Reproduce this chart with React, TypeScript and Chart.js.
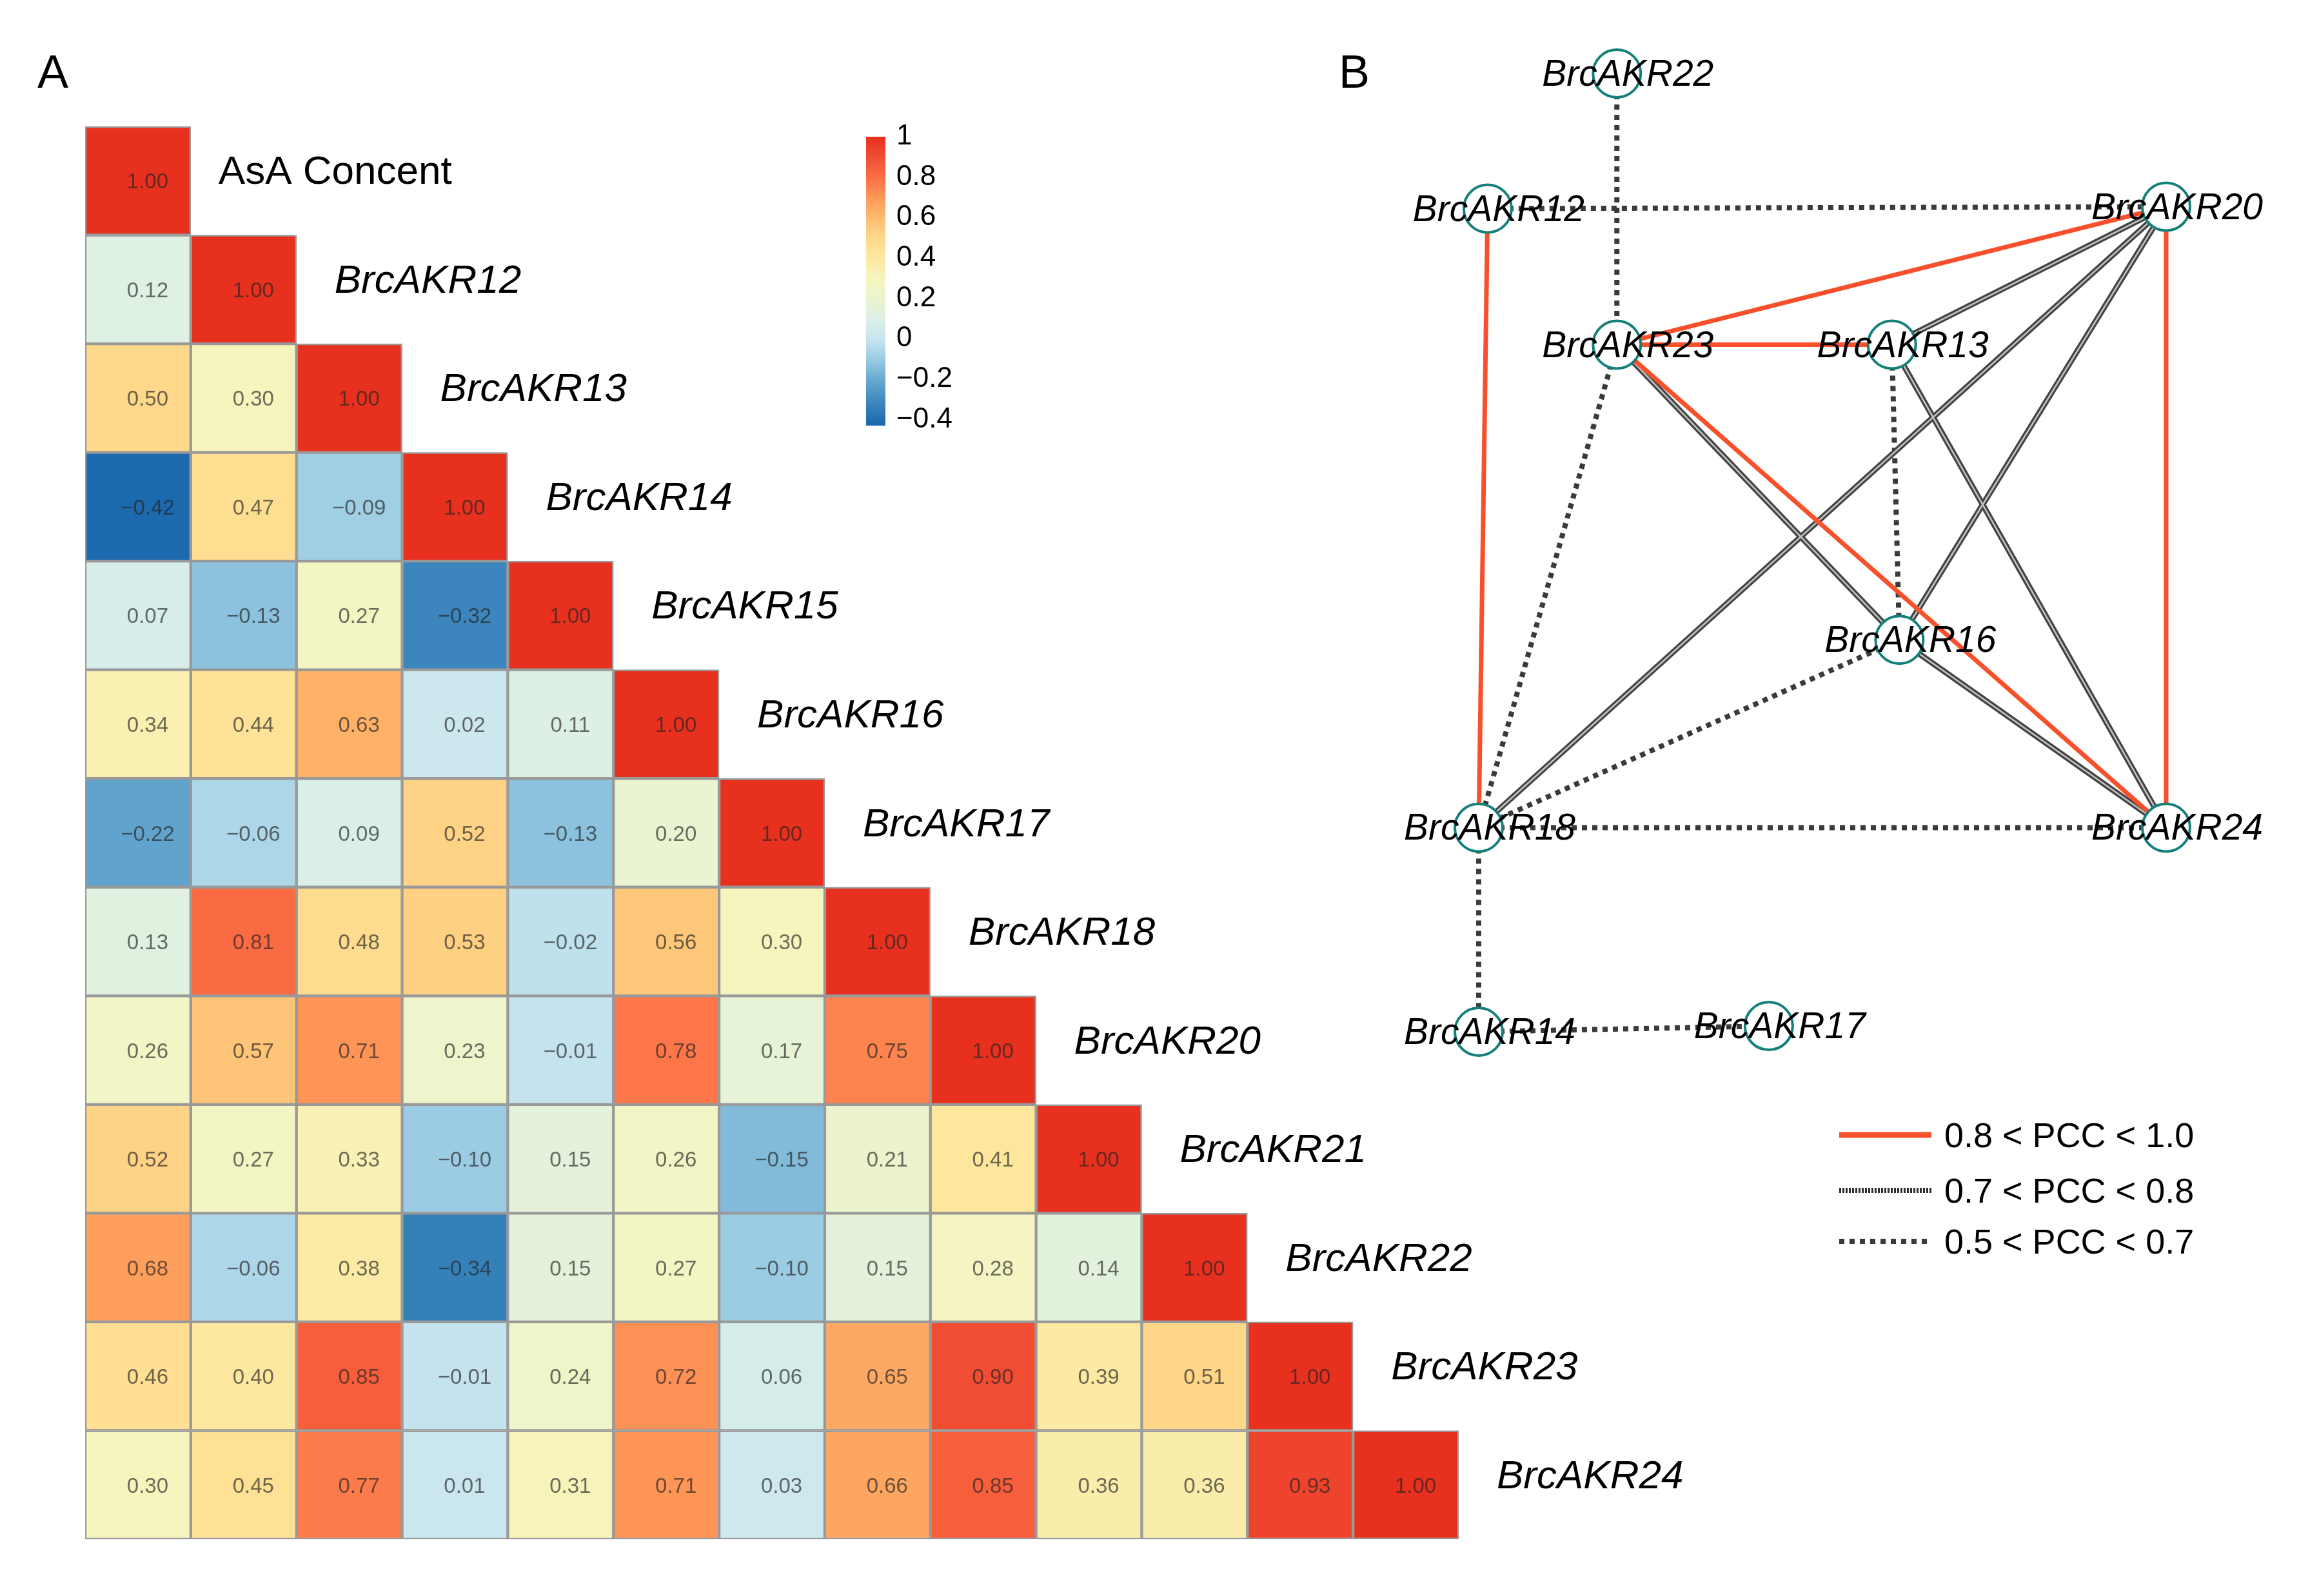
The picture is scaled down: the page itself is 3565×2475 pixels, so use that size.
import React, { useEffect, useRef } from 'react';
import { Chart, registerables } from 'chart.js';

Chart.register(...registerables);

const FONT = '"Liberation Sans", Arial, Helvetica, sans-serif';

// ---------------- DATA ----------------
const variables = [
  'AsA Concent', 'BrcAKR12', 'BrcAKR13', 'BrcAKR14', 'BrcAKR15', 'BrcAKR16', 'BrcAKR17',
  'BrcAKR18', 'BrcAKR20', 'BrcAKR21', 'BrcAKR22', 'BrcAKR23', 'BrcAKR24',
];

const rowAsA = [1.0];
const row12 = [0.12, 1.0];
const row13 = [0.5, 0.3, 1.0];
const row14 = [-0.42, 0.47, -0.09, 1.0];
const row15 = [0.07, -0.13, 0.27, -0.32, 1.0];
const row16 = [0.34, 0.44, 0.63, 0.02, 0.11, 1.0];
const row17 = [-0.22, -0.06, 0.09, 0.52, -0.13, 0.2, 1.0];
const row18 = [0.13, 0.81, 0.48, 0.53, -0.02, 0.56, 0.3, 1.0];
const row20 = [0.26, 0.57, 0.71, 0.23, -0.01, 0.78, 0.17, 0.75, 1.0];
const row21 = [0.52, 0.27, 0.33, -0.1, 0.15, 0.26, -0.15, 0.21, 0.41, 1.0];
const row22 = [0.68, -0.06, 0.38, -0.34, 0.15, 0.27, -0.1, 0.15, 0.28, 0.14, 1.0];
const row23 = [0.46, 0.4, 0.85, -0.01, 0.24, 0.72, 0.06, 0.65, 0.9, 0.39, 0.51, 1.0];
const row24 = [0.3, 0.45, 0.77, 0.01, 0.31, 0.71, 0.03, 0.66, 0.85, 0.36, 0.36, 0.93, 1.0];

const corrRows = [rowAsA, row12, row13, row14, row15, row16, row17, row18, row20, row21, row22, row23, row24];

const colorbarTicks = [1, 0.8, 0.6, 0.4, 0.2, 0, -0.2, -0.4];
const colorbarMin = -0.43;
const colorbarMax = 1.0;

// colour scale anchors (value -> colour)
const paletteValues = [-0.43, -0.3, -0.2, -0.1, 0.0, 0.1, 0.2, 0.3, 0.4, 0.5, 0.6, 0.7, 0.8, 0.9, 1.0];
const paletteColors = [
  '#1a66ac', '#428cc0', '#68aad1', '#9bcce3', '#c8e6f0', '#dcf0e6', '#ebf4d0', '#f6f5be',
  '#fde89f', '#fed98b', '#febb6e', '#fe9858', '#fb6e45', '#f14d33', '#e8301f',
];

// network layout (layout units 0..100)
const networkNodes = ['BrcAKR22', 'BrcAKR12', 'BrcAKR20', 'BrcAKR23', 'BrcAKR13', 'BrcAKR16', 'BrcAKR18', 'BrcAKR24', 'BrcAKR14', 'BrcAKR17'];
const nodeLayoutX = [20.1, 1.3, 100, 20.1, 60.1, 61.2, 0, 100, 0, 42.2];
const nodeLayoutY = [0, 14.1, 13.9, 28.3, 28.3, 59.1, 78.7, 78.7, 100, 99.4];

const pccLabels = ['0.8 < PCC < 1.0', '0.7 < PCC < 0.8', '0.5 < PCC < 0.7'];
const pccLower = [0.8, 0.7, 0.5];

// ---------------- HELPERS ----------------
function hexToRgb(h: string) {
  const n = parseInt(h.slice(1), 16);
  return [(n >> 16) & 255, (n >> 8) & 255, n & 255];
}

function corrColor(v: number) {
  if (v <= paletteValues[0]) return paletteColors[0];
  for (let k = 1; k < paletteValues.length; k++) {
    if (v <= paletteValues[k]) {
      const t = (v - paletteValues[k - 1]) / (paletteValues[k] - paletteValues[k - 1]);
      const a = hexToRgb(paletteColors[k - 1]);
      const b = hexToRgb(paletteColors[k]);
      const c = a.map((x, i) => Math.round(x + (b[i] - x) * t));
      return `rgb(${c[0]},${c[1]},${c[2]})`;
    }
  }
  return paletteColors[paletteColors.length - 1];
}

function fmtNum(v: number) {
  const s = Math.abs(v).toFixed(2);
  return v < 0 ? '\u2212' + s : s;
}

function fmtTick(v: number) {
  if (v === 1) return '1';
  if (v === 0) return '0';
  const s = Math.abs(v).toFixed(1);
  return v < 0 ? '\u2212' + s : s;
}

function corrOf(a: string, b: string) {
  const i = variables.indexOf(a);
  const j = variables.indexOf(b);
  return i > j ? corrRows[i][j] : corrRows[j][i];
}

// ---------------- HEATMAP ----------------
const HEAT_W = 2700;
const HEAT_H = 2475;

const heatTextPlugin = {
  id: 'heatText',
  afterDatasetsDraw(chart: any) {
    const ctx = chart.ctx;
    ctx.save();
    chart.data.datasets.forEach((_ds: any, i: number) => {
      const meta = chart.getDatasetMeta(i);
      meta.data.forEach((el: any, j: number) => {
        if (j > i) return;
        const p = el.getProps(['x', 'y', 'base', 'width'], true);
        const cy = (p.y + p.base) / 2;
        ctx.font = `33px ${FONT}`;
        ctx.fillStyle = 'rgba(35,35,35,0.66)';
        ctx.textAlign = 'center';
        ctx.textBaseline = 'alphabetic';
        ctx.fillText(fmtNum(corrRows[i][j]), p.x + 15, cy + 12);
        if (j === i) {
          ctx.font = `${i === 0 ? '' : 'italic '}62px ${FONT}`;
          ctx.fillStyle = '#000';
          ctx.textAlign = 'left';
          ctx.fillText(variables[i], p.x + p.width / 2 + (i === 0 ? 43 : 59), cy + 5);
        }
      });
    });
    ctx.font = `72px ${FONT}`;
    ctx.fillStyle = '#000';
    ctx.textAlign = 'left';
    ctx.textBaseline = 'alphabetic';
    ctx.fillText('A', 58, 136);
    ctx.restore();
  },
};

function Heatmap() {
  const ref = useRef<HTMLCanvasElement>(null);
  useEffect(() => {
    const datasets = corrRows.map((row, i) => ({
      label: variables[i],
      data: variables.map((_, j) => (j <= i ? [i, i + 1] : null)),
      backgroundColor: variables.map((_, j) => (j <= i ? corrColor(row[j]) : 'rgba(0,0,0,0)')),
      borderColor: '#999999',
      borderWidth: 2.5,
      borderSkipped: false,
      grouped: false,
      barPercentage: 1,
      categoryPercentage: 1,
    }));
    const chart = new Chart(ref.current as HTMLCanvasElement, {
      type: 'bar',
      data: { labels: variables, datasets: datasets as any },
      options: {
        animation: false,
        responsive: false,
        devicePixelRatio: 1,
        events: [],
        indexAxis: 'x',
        layout: { padding: { left: 132, top: 196, right: HEAT_W - 2262, bottom: HEAT_H - 2387 } },
        plugins: { legend: { display: false }, tooltip: { enabled: false } },
        scales: {
          x: { type: 'category', display: false, offset: true },
          y: { type: 'linear', display: false, min: 0, max: variables.length, reverse: true },
        },
      } as any,
      plugins: [heatTextPlugin],
    });
    return () => chart.destroy();
  }, []);
  return (
    <canvas
      ref={ref}
      width={HEAT_W}
      height={HEAT_H}
      style={{ position: 'absolute', left: 0, top: 0, width: HEAT_W, height: HEAT_H }}
    />
  );
}

// ---------------- COLOUR BAR ----------------
const CB_LEFT = 1300;
const CB_TOP = 150;
const CB_W = 43 + 30 + 150;
const CB_H = 560;

function ColorBar() {
  const ref = useRef<HTMLCanvasElement>(null);
  useEffect(() => {
    const chart = new Chart(ref.current as HTMLCanvasElement, {
      type: 'bar',
      data: {
        labels: [''],
        datasets: [
          {
            data: [[colorbarMin, colorbarMax]] as any,
            backgroundColor: (c: any) => {
              const area = c.chart.chartArea;
              if (!area) return 'rgba(0,0,0,0)';
              const g = c.chart.ctx.createLinearGradient(0, area.bottom, 0, area.top);
              paletteValues.forEach((v, k) => {
                const t = (v - colorbarMin) / (colorbarMax - colorbarMin);
                if (t >= 0 && t <= 1) g.addColorStop(t, paletteColors[k]);
              });
              return g;
            },
            borderWidth: 0,
            barPercentage: 1,
            categoryPercentage: 1,
          },
        ],
      },
      options: {
        animation: false,
        responsive: false,
        devicePixelRatio: 1,
        events: [],
        layout: { padding: { left: 43, right: 0, top: 62, bottom: 50 } },
        plugins: { legend: { display: false }, tooltip: { enabled: false } },
        scales: {
          x: { display: false },
          y: {
            position: 'right',
            min: colorbarMin,
            max: colorbarMax,
            grid: { display: false, drawTicks: false },
            border: { display: false },
            ticks: {
              padding: 17,
              color: '#000',
              font: { size: 44, family: FONT },
              callback: (v: any) => fmtTick(Number(v)),
            },
            afterBuildTicks: (s: any) => {
              s.ticks = colorbarTicks.map((v) => ({ value: v }));
            },
            afterFit: (s: any) => {
              s.width = 150;
            },
          },
        },
      } as any,
    });
    return () => chart.destroy();
  }, []);
  return (
    <canvas
      ref={ref}
      width={CB_W}
      height={CB_H}
      style={{ position: 'absolute', left: CB_LEFT, top: CB_TOP, width: CB_W, height: CB_H }}
    />
  );
}

// ---------------- NETWORK ----------------
const NET_LEFT = 2050;
const NET_W = 1515;
const NET_H = 2475;

const RED = '#f7502b';
const DARK = '#444444';
const DOT = '#3a3a3a';

const netPlugin = {
  id: 'netText',
  afterDatasetsDraw(chart: any) {
    const ctx = chart.ctx;
    ctx.save();
    const meta = chart.getDatasetMeta(0);
    ctx.font = `italic 57px ${FONT}`;
    ctx.fillStyle = '#000';
    ctx.textAlign = 'center';
    ctx.textBaseline = 'alphabetic';
    meta.data.forEach((el: any, k: number) => {
      ctx.fillText(networkNodes[k], el.x + 17, el.y + 19);
    });
    // panel letter
    ctx.font = `72px ${FONT}`;
    ctx.textAlign = 'left';
    ctx.fillText('B', 26, 136);
    // legend
    const rows = [1760, 1846, 1925];
    const x0 = 802;
    const x1 = 945;
    rows.forEach((y, k) => {
      ctx.setLineDash([]);
      ctx.lineCap = 'butt';
      if (k === 0) {
        ctx.strokeStyle = RED;
        ctx.lineWidth = 9;
        ctx.beginPath(); ctx.moveTo(x0, y); ctx.lineTo(x1, y); ctx.stroke();
      } else if (k === 1) {
        ctx.strokeStyle = '#2e2e2e';
        ctx.lineWidth = 8;
        ctx.setLineDash([3, 2]);
        ctx.beginPath(); ctx.moveTo(x0, y); ctx.lineTo(x1, y); ctx.stroke();
      } else {
        ctx.strokeStyle = DOT;
        ctx.lineWidth = 8;
        ctx.setLineDash([8, 8]);
        ctx.beginPath(); ctx.moveTo(x0, y); ctx.lineTo(x1, y); ctx.stroke();
      }
      ctx.setLineDash([]);
      ctx.font = `54px ${FONT}`;
      ctx.fillStyle = '#000';
      ctx.textAlign = 'left';
      ctx.fillText(pccLabels[k], 965, y + 19);
    });
    ctx.restore();
  },
};

function Network() {
  const ref = useRef<HTMLCanvasElement>(null);
  useEffect(() => {
    const pt = (k: number) => ({ x: nodeLayoutX[k], y: nodeLayoutY[k] });
    const red: any[] = [];
    const dblTop: any[] = [];
    const dblBase: any[] = [];
    const dotted: any[] = [];
    for (let a = 0; a < networkNodes.length; a++) {
      for (let b = a + 1; b < networkNodes.length; b++) {
        const r = corrOf(networkNodes[a], networkNodes[b]);
        if (r <= pccLower[2]) continue;
        const base = {
          data: [pt(a), pt(b)],
          showLine: true,
          pointRadius: 0,
          clip: false,
          borderCapStyle: 'butt',
        };
        if (r > pccLower[0]) {
          red.push({ ...base, borderColor: RED, borderWidth: 7 });
        } else if (r > pccLower[1]) {
          dblTop.push({ ...base, borderColor: '#c4c4c4', borderWidth: 2.5 });
          dblBase.push({ ...base, borderColor: DARK, borderWidth: 9 });
        } else {
          dotted.push({ ...base, borderColor: DOT, borderWidth: 8, borderDash: [8, 8] });
        }
      }
    }
    const nodes = {
      data: networkNodes.map((_, k) => pt(k)),
      showLine: false,
      pointRadius: 37,
      pointBorderWidth: 4,
      pointBorderColor: '#157f7a',
      pointBackgroundColor: '#ffffff',
      clip: false,
    };
    const chart = new Chart(ref.current as HTMLCanvasElement, {
      type: 'scatter',
      data: { datasets: [nodes, ...red, ...dblTop, ...dblBase, ...dotted] as any },
      options: {
        animation: false,
        responsive: false,
        devicePixelRatio: 1,
        events: [],
        layout: { padding: { left: 243, right: 206, top: 114, bottom: 875 } },
        plugins: { legend: { display: false }, tooltip: { enabled: false } },
        scales: {
          x: { type: 'linear', display: false, min: 0, max: 100 },
          y: { type: 'linear', display: false, min: 0, max: 100, reverse: true },
        },
      } as any,
      plugins: [netPlugin],
    });
    return () => chart.destroy();
  }, []);
  return (
    <canvas
      ref={ref}
      width={NET_W}
      height={NET_H}
      style={{ position: 'absolute', left: NET_LEFT, top: 0, width: NET_W, height: NET_H }}
    />
  );
}

export default function App() {
  return (
    <div style={{ position: 'absolute', left: 0, top: 0, width: 3565, height: 2475, background: '#fff', overflow: 'hidden' }}>
      <Heatmap />
      <ColorBar />
      <Network />
    </div>
  );
}
